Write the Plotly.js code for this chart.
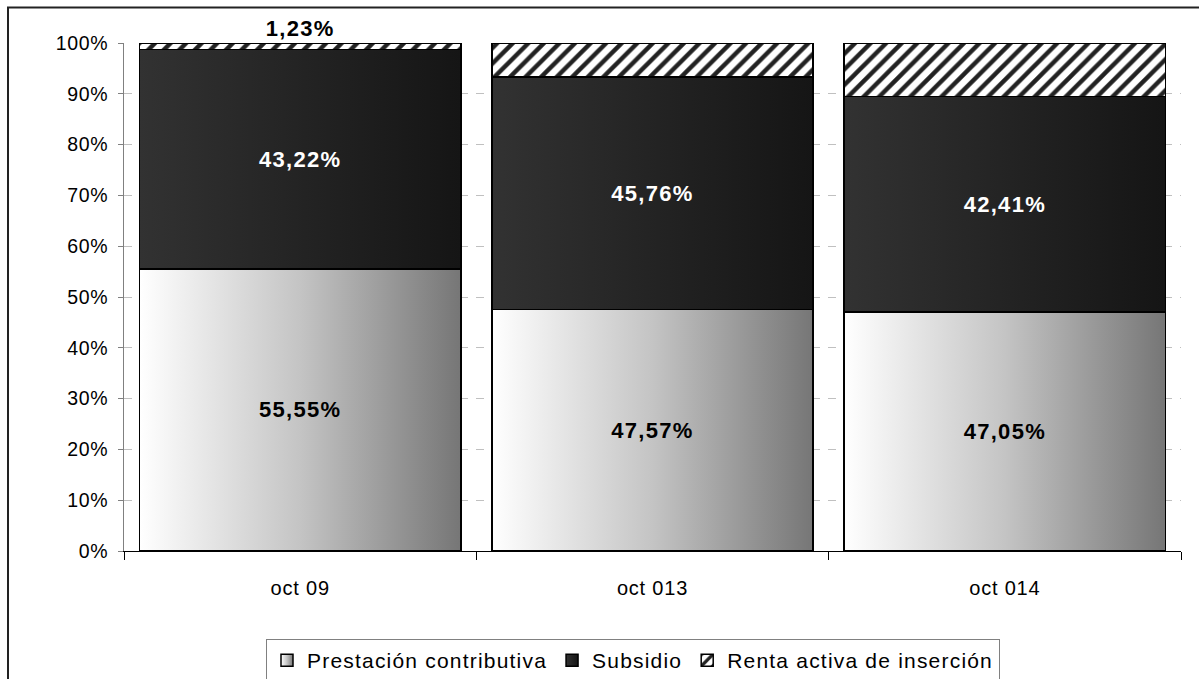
<!DOCTYPE html>
<html>
<head>
<meta charset="utf-8">
<script src="https://cdn.plot.ly/plotly-3.0.1.min.js"></script>
<style>
  html, body { margin: 0; padding: 0; background: #fff; }
  #chart { width: 1199px; height: 679px; }
  #chart .ytick text { letter-spacing: 0.6px; }
  #chart .xtick text { letter-spacing: 0.8px; }
  .bartext, #chart .bartext { letter-spacing: 1.3px; }
  #chart .annotation-text { letter-spacing: 1.3px; }
  .legendtext { letter-spacing: 1.2px; }
</style>
</head>
<body>
<div id="chart"></div>
<script>
const categories = ["oct 09", "oct 013", "oct 014"];
const prestacion = [55.55, 47.57, 47.05];
const subsidio = [43.22, 45.76, 42.41];
const renta = [1.23, 6.68, 10.55];
const seriesNames = ["Prestación contributiva", "Subsidio", "Renta activa de inserción"];

const FONT = "Liberation Sans, Arial, sans-serif";
const outline = { color: "#000", width: 1.5 };

const traces = [
  {
    type: "bar", name: seriesNames[0], x: categories, y: prestacion,
    marker: { color: "#bbbbbb", line: outline },
    texttemplate: "%{y:.2f}%", textposition: "inside", insidetextanchor: "middle",
    constraintext: "none", textangle: 0,
    textfont: { family: FONT, size: 22, color: "#000", weight: "bold" },
    hoverinfo: "skip"
  },
  {
    type: "bar", name: seriesNames[1], x: categories, y: subsidio,
    marker: { color: "#222222", line: outline },
    texttemplate: "%{y:.2f}%", textposition: "inside", insidetextanchor: "middle",
    constraintext: "none", textangle: 0,
    textfont: { family: FONT, size: 22, color: "#fff", weight: "bold" },
    hoverinfo: "skip"
  },
  {
    type: "bar", name: seriesNames[2], x: categories, y: renta,
    marker: { color: "#ffffff", line: outline,
      pattern: { shape: "/", fgcolor: "#222", bgcolor: "#fff", size: 11, solidity: 0.4 } },
    textposition: "none",
    hoverinfo: "skip"
  }
];

const annotations = categories.map((c, i) => ({
  x: c, y: prestacion[i] + subsidio[i] + renta[i],
  xref: "x", yref: "y", yanchor: "bottom", showarrow: false, yshift: 0,
  text: renta[i].toFixed(2).replace(".", ",") + "%",
  font: { family: FONT, size: 22, color: "#000", weight: "bold" }
}));

const W = 1199, H = 679, L = 124, R = 18, T = 43, B = 128;
const pw = W - L - R, ph = H - T - B;

const layout = {
  width: W, height: H,
  margin: { l: L, r: R, t: T, b: B, pad: 0, autoexpand: false },
  paper_bgcolor: "#fff", plot_bgcolor: "#fff",
  separators: ",.",
  barmode: "stack", bargap: 0.088,
  font: { family: FONT, color: "#000" },
  showlegend: true,
  legend: {
    orientation: "h", x: (266 - L) / pw, xanchor: "left",
    y: -(639 - (T + ph)) / ph, yanchor: "top",
    bordercolor: "#808080", borderwidth: 1, bgcolor: "#fff",
    font: { family: FONT, size: 21, color: "#000" },
    traceorder: "normal", itemclick: false
  },
  xaxis: {
    type: "category", tickson: "boundaries", ticks: "outside", ticklen: 8,
    tickcolor: "#000", showline: true, linecolor: "#000", linewidth: 1,
    showgrid: false, tickfont: { family: FONT, size: 20, color: "#000" },
    ticklabelstandoff: 19, fixedrange: true
  },
  yaxis: {
    range: [0, 100], dtick: 10, ticksuffix: "%", ticks: "outside", ticklen: 5,
    tickcolor: "#808080", showline: true, linecolor: "#808080", linewidth: 1,
    showgrid: true, gridcolor: "#c0c0c0", griddash: "8px,8px", zeroline: false,
    tickfont: { family: FONT, size: 19.5, color: "#000" }, ticklabelstandoff: 6,
    fixedrange: true
  },
  annotations: annotations,
  shapes: [{
    type: "rect", xref: "paper", yref: "paper", layer: "below",
    x0: (8 - L) / pw, x1: (1215 - L) / pw,
    y0: -(700 - (T + ph)) / ph, y1: 1 + (T - 7.5) / ph,
    line: { color: "#222", width: 2 }, fillcolor: "rgba(0,0,0,0)"
  }]
};

function addGradients() {
  const svg = document.querySelector("#chart .main-svg");
  if (!svg) return;
  let defs = svg.querySelector("defs");
  const NS = "http://www.w3.org/2000/svg";
  if (!defs) { defs = document.createElementNS(NS, "defs"); svg.insertBefore(defs, svg.firstChild); }
  function grad(id, stops) {
    if (document.getElementById(id)) return;
    const g = document.createElementNS(NS, "linearGradient");
    g.setAttribute("id", id);
    g.setAttribute("x1", "0"); g.setAttribute("y1", "0");
    g.setAttribute("x2", "1"); g.setAttribute("y2", "0");
    stops.forEach(s => {
      const st = document.createElementNS(NS, "stop");
      st.setAttribute("offset", s[0]); st.setAttribute("stop-color", s[1]);
      g.appendChild(st);
    });
    defs.appendChild(g);
  }
  grad("gradPrest", [["0", "#ffffff"], ["0.5", "#c4c4c4"], ["1", "#767676"]]);
  grad("gradSubs", [["0", "#323232"], ["1", "#151515"]]);
  const fills = ["url(#gradPrest)", "url(#gradSubs)"];
  document.querySelectorAll("#chart .barlayer .trace.bars").forEach((t, i) => {
    if (i < 2) t.querySelectorAll("path").forEach(p => p.style.setProperty("fill", fills[i]));
  });
  document.querySelectorAll("#chart .legend .traces").forEach((t, i) => {
    if (i < 2) t.querySelectorAll(".legendpoints path").forEach(p => p.style.setProperty("fill", fills[i]));
  });
}

Plotly.newPlot("chart", traces, layout, { displayModeBar: false, staticPlot: true }).then(() => {
  addGradients();
  document.getElementById("chart").on("plotly_afterplot", addGradients);
});
</script>
</body>
</html>
